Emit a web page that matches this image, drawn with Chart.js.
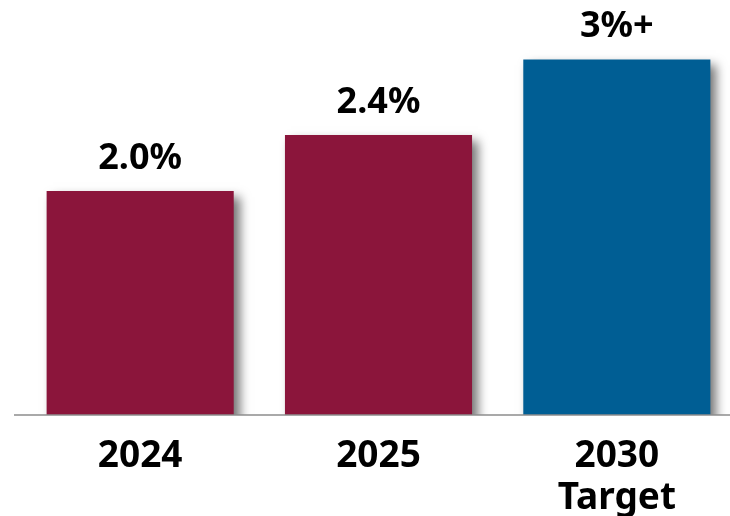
<!DOCTYPE html>
<html>
<head>
<meta charset="utf-8">
<script src="https://cdn.jsdelivr.net/npm/chart.js@4"></script>
<style>
  html, body { margin: 0; padding: 0; background: #fff; overflow: hidden; }
  #wrap { position: absolute; left: 0; top: 0; width: 750px; height: 516px; }
</style>
</head>
<body>
<div id="wrap"><canvas id="barChart"></canvas></div>
<script>
const categories = [['2024'], ['2025'], ['2030', 'Target']];
const values = [2.0, 2.4, 2.94];
const valueLabels = ['2.0%', '2.4%', '3%+'];
const barColors = ['#8b153b', '#8b153b', '#005e94'];

const fontFamily = '"Noto Sans", "Open Sans", sans-serif';

// ombre portée sous les barres
const shadowPlugin = {
    id: 'barShadow',
    beforeDatasetsDraw(chart) {
        const ctx = chart.ctx;
        ctx.save();
        ctx.shadowColor = 'rgba(0, 0, 0, 0.55)';
        ctx.shadowBlur = 10;
        ctx.shadowOffsetX = 6;
        ctx.shadowOffsetY = 6;
    },
    afterDatasetsDraw(chart) {
        chart.ctx.restore();
    }
};

// ligne de base + étiquettes de valeur
const labelPlugin = {
    id: 'valueLabels',
    afterDatasetsDraw(chart) {
        const ctx = chart.ctx;
        const meta = chart.getDatasetMeta(0);
        const yBase = chart.chartArea.bottom;
        ctx.save();
        ctx.strokeStyle = '#8c8c8c';
        ctx.lineWidth = 1.5;
        ctx.beginPath();
        ctx.moveTo(14, yBase);
        ctx.lineTo(chart.width, yBase);
        ctx.stroke();

        ctx.fillStyle = '#000';
        ctx.font = 'bold 36px ' + fontFamily;
        ctx.textAlign = 'center';
        ctx.textBaseline = 'alphabetic';
        meta.data.forEach((bar, i) => {
            ctx.fillText(valueLabels[i], bar.x, bar.y - 22);
        });
        ctx.restore();
    }
};

new Chart(document.getElementById('barChart').getContext('2d'), {
    type: 'bar',
    data: {
        labels: categories,
        datasets: [{
            data: values,
            backgroundColor: barColors,
            borderWidth: 0,
            categoryPercentage: 1,
            barPercentage: 0.785
        }]
    },
    options: {
        responsive: true,
        maintainAspectRatio: false,
        animation: false,
        layout: { padding: { left: 21, right: 14, top: 23, bottom: 0 } },
        plugins: {
            legend: { display: false },
            tooltip: { enabled: false }
        },
        scales: {
            x: {
                grid: { display: false, drawTicks: false },
                border: { display: false },
                ticks: {
                    color: '#000',
                    padding: 21,
                    font: { family: fontFamily, size: 37, weight: 'bold', lineHeight: 1.12 }
                },
                afterFit: s => { s.height = 101; }
            },
            y: {
                display: false,
                min: 0.4,
                max: 3.2
            }
        }
    },
    plugins: [shadowPlugin, labelPlugin]
});
</script>
</body>
</html>
